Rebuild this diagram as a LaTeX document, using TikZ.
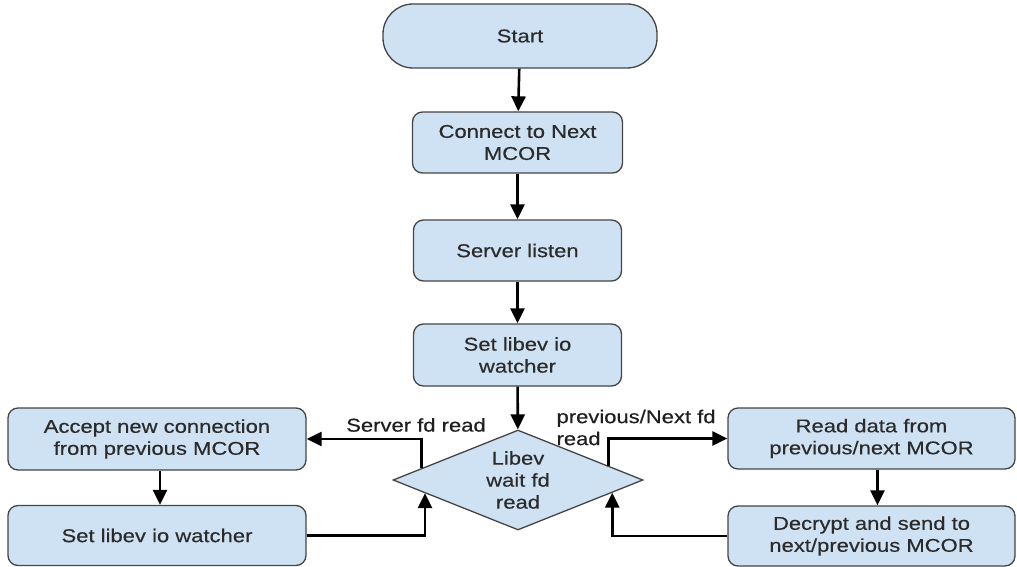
\documentclass[tikz,border=0pt]{standalone}
\usepackage{fontspec}
\setmainfont{Liberation Sans}[FakeStretch=1.19,FakeBold=0.4]
\usetikzlibrary{shapes.geometric,arrows.meta,calc}
\definecolor{boxfill}{HTML}{CFE2F3}
\definecolor{boxline}{HTML}{454545}
\definecolor{txt}{HTML}{2B2B2B}
\begin{document}
\begin{tikzpicture}[x=1pt,y=-1pt,
  every node/.style={font=\fontsize{18.5}{22}\selectfont, text=txt},
  proc/.style={draw=boxline, fill=boxfill, line width=1.3pt, rounded corners=10pt,
               align=center, inner sep=0pt},
  term/.style={proc, rounded corners=30pt},
  decision/.style={diamond, draw=boxline, fill=boxfill, line width=1.3pt, aspect=2.5,
                   minimum width=250pt, minimum height=100pt, inner sep=0pt, align=center},
  flow/.style={line width=2.6pt, black, -{Triangle[length=15pt,width=14pt]}},
  lbl/.style={text=black!88}
]
\useasboundingbox (0,0) rectangle (1017,567);

% main column
\node[term, minimum width=274pt, minimum height=64pt] (start) at (520,36) {Start};
\node[proc, minimum width=210pt, minimum height=61pt] (connect) at (517.5,142.5) {Connect to Next\\MCOR};
\node[proc, minimum width=208pt, minimum height=61pt] (listen) at (517.5,250.5) {Server listen};
\node[proc, minimum width=208pt, minimum height=62pt] (setw) at (517.5,355) {Set libev io\\watcher};
\node[decision] (dia) at (518,480) {Libev\\wait fd\\read};

% left branch
\node[proc, minimum width=298pt, minimum height=62pt] (accept) at (157,439) {Accept new connection\\from previous MCOR};
\node[proc, minimum width=298pt, minimum height=60pt] (setl) at (157,535.5) {Set libev io watcher};

% right branch
\node[proc, minimum width=287pt, minimum height=61pt] (read) at (871.5,438.5) {Read data from\\previous/next MCOR};
\node[proc, minimum width=287pt, minimum height=60pt] (decr) at (871.5,536) {Decrypt and send to\\next/previous MCOR};

% points on the diamond edges where the side connectors meet it
\coordinate (dul) at ($(dia.west)!0.23!(dia.north)$);
\coordinate (dll) at ($(dia.west)!0.26!(dia.south)$);
\coordinate (dur) at ($(dia.east)!0.28!(dia.north)$);
\coordinate (dlr) at ($(dia.east)!0.25!(dia.south)$);

% connectors
\draw[flow] (start) -- (connect);
\draw[flow] (connect) -- (listen);
\draw[flow] (listen) -- (setw);
\draw[flow] (setw) -- (dia);
\draw[flow] (dul) |- (accept.east);
\draw[flow] ([xshift=3pt]accept.south) -- ([xshift=3pt]setl.north);
\draw[flow] (setl.east) -| (dll);
\draw[flow] (dur) |- (read.west);
\draw[flow] ([xshift=6pt]read.south) -- ([xshift=6pt]decr.north);
\draw[flow] (decr.west) -| (dlr);

% connector labels
\node[lbl] (lsrv) at (416,425) {Server fd read};
\node[lbl, align=left, anchor=west] (lprev) at (553,427.5) {previous/Next fd\\read};
\end{tikzpicture}
\end{document}
